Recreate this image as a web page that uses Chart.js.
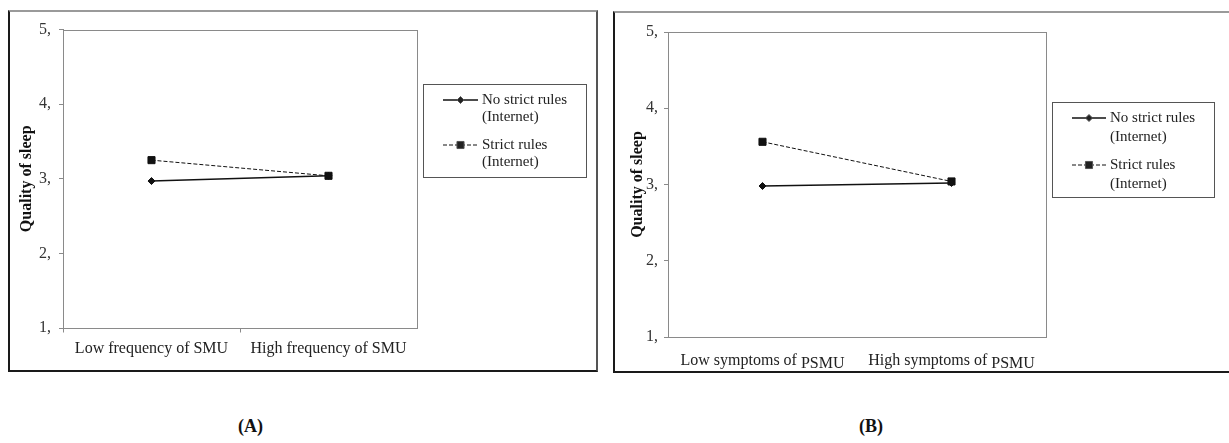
<!DOCTYPE html>
<html>
<head>
<meta charset="utf-8">
<script src="https://cdn.jsdelivr.net/npm/chart.js"></script>
<style>
  body { margin: 0; background: #fff; width: 1229px; height: 443px; overflow: hidden; position: relative; }
  .panel { position: absolute; box-sizing: border-box; border: 2px solid #1a1a1a; border-top-color: #9a9a9a; border-right-color: #555; }
  .panel canvas { display: block; }
  .tag { position: absolute; font-family: 'Liberation Serif', 'Times New Roman', serif; font-weight: bold; font-size: 18px; color: #111; }
</style>
</head>
<body>
<div class="panel" style="left:8px;top:10px;width:590px;height:362px;"><canvas id="chartA" width="586" height="358"></canvas></div>
<div class="panel" style="left:613px;top:11px;width:618px;height:362px;"><canvas id="chartB" width="614" height="358"></canvas></div>
<div class="tag" style="left:238px;top:416px;">(A)</div>
<div class="tag" style="left:859px;top:416px;">(B)</div>
<script>
const serif = "'Liberation Serif', 'Times New Roman', serif";

// data
const categoriesA = ['Low frequency of SMU', 'High frequency of SMU'];
const categoriesB = ['Low symptoms of PSMU', 'High symptoms of PSMU'];
const seriesNames = ['No strict rules (Internet)', 'Strict rules (Internet)'];
const noRulesA = [2.97, 3.04];
const strictA = [3.25, 3.04];
const noRulesB = [2.98, 3.02];
const strictB = [3.56, 3.04];
const yTicks = [1, 2, 3, 4, 5];
const yTitle = 'Quality of sleep';

// plot frame (top + right edges too), optional tick between categories
const frame = {
  id: 'frame',
  beforeDatasetsDraw(chart, args, opts) {
    const { ctx, chartArea: a } = chart;
    ctx.save();
    ctx.strokeStyle = '#8a8a8a';
    ctx.lineWidth = 1;
    ctx.strokeRect(Math.round(a.left) + 0.5, Math.round(a.top) + 0.5, Math.round(a.right - a.left), Math.round(a.bottom - a.top));
    if (opts.midTick) {
      const xs = chart.scales.x;
      const mx = Math.round((xs.getPixelForValue(0) + xs.getPixelForValue(1)) / 2) + 0.5;
      const bottom = Math.round(a.bottom) + 0.5;
      ctx.beginPath();
      ctx.moveTo(mx, bottom);
      ctx.lineTo(mx, bottom + 4);
      ctx.moveTo(Math.round(a.left) + 0.5, bottom);
      ctx.lineTo(Math.round(a.left) + 0.5, bottom + 4);
      ctx.stroke();
    }
    ctx.restore();
  }
};

// category labels, with an optional lowered last word
const xLabels = {
  id: 'xLabels',
  afterDraw(chart, args, opts) {
    const { ctx } = chart;
    const xs = chart.scales.x;
    const base = chart.chartArea.bottom + opts.dy;
    ctx.save();
    ctx.fillStyle = '#222';
    ctx.font = '16px ' + serif;
    ctx.textBaseline = 'alphabetic';
    ctx.textAlign = 'left';
    chart.data.labels.forEach((lab, i) => {
      const cx = xs.getPixelForValue(i);
      if (opts.sub && lab.endsWith(opts.sub)) {
        const main = lab.slice(0, lab.length - opts.sub.length);
        const w1 = ctx.measureText(main).width;
        const w2 = ctx.measureText(opts.sub).width;
        const x0 = cx - (w1 + w2) / 2;
        ctx.fillText(main, x0, base);
        ctx.fillText(opts.sub, x0 + w1, base + opts.subDy);
      } else {
        const w = ctx.measureText(lab).width;
        ctx.fillText(lab, cx - w / 2, base);
      }
    });
    ctx.restore();
  }
};

// boxed legend with line sample + marker
const boxLegend = {
  id: 'boxLegend',
  afterDraw(chart, args, opts) {
    const { ctx } = chart;
    const [l, t, r, b] = opts.box;
    ctx.save();
    ctx.strokeStyle = '#555';
    ctx.lineWidth = 1;
    ctx.strokeRect(l + 0.5, t + 0.5, r - l, b - t);
    ctx.font = '15px ' + serif;
    ctx.fillStyle = '#222';
    ctx.textBaseline = 'middle';
    chart.data.datasets.forEach((ds, i) => {
      const y = opts.rows[i];
      ctx.save();
      ctx.strokeStyle = ds.borderColor;
      ctx.lineWidth = ds.borderWidth;
      ctx.setLineDash(ds.borderDash || []);
      ctx.beginPath();
      ctx.moveTo(opts.lineX[0], y);
      ctx.lineTo(opts.lineX[1], y);
      ctx.stroke();
      ctx.restore();
      Chart.helpers.drawPoint(ctx, {
        pointStyle: ds.pointStyle, radius: ds.pointRadius, borderWidth: 1, rotation: 0
      }, (opts.lineX[0] + opts.lineX[1]) / 2, y);
      const lines = ds.label.split(' (');
      ctx.fillText(lines[0], opts.textX, y);
      if (lines[1]) ctx.fillText('(' + lines[1], opts.textX, y + opts.lineGap);
    });
    ctx.restore();
  }
};

function makeChart(id, labels, noRules, strict, cfg) {
  const ctx = document.getElementById(id).getContext('2d');
  const line = (label, data, dash, style, radius, width) => ({
    label, data,
    borderColor: '#111', backgroundColor: '#111',
    pointBackgroundColor: '#111', pointBorderColor: '#111',
    borderWidth: width, borderDash: dash,
    pointStyle: style, pointRadius: radius, pointBorderWidth: 1,
    tension: 0
  });
  return new Chart(ctx, {
    type: 'line',
    data: {
      labels,
      datasets: [
        line(seriesNames[0], noRules, [], 'rectRot', 3.5, 1.5),
        line(seriesNames[1], strict, [4, 2], 'rect', 5, 1)
      ]
    },
    options: {
      responsive: false,
      animation: false,
      layout: { padding: { top: cfg.top, right: cfg.right, left: 0, bottom: 0 } },
      plugins: {
        legend: { display: false },
        tooltip: { enabled: false },
        frame: { midTick: cfg.midTick },
        xLabels: cfg.xl,
        boxLegend: cfg.legend
      },
      scales: {
        x: {
          offset: true,
          afterFit: s => { s.height = cfg.xh; },
          grid: { display: false, drawTicks: false },
          border: { display: false },
          ticks: { display: false }
        },
        y: {
          min: 1, max: 5,
          afterFit: s => { s.width = cfg.yw; },
          afterBuildTicks: s => { s.ticks = yTicks.map(v => ({ value: v })); },
          grid: { drawOnChartArea: false, tickLength: 4, color: '#8a8a8a' },
          border: { color: '#8a8a8a' },
          ticks: {
            padding: cfg.tickPad,
            color: '#333',
            font: { family: serif, size: 16 },
            callback: v => v + ','
          },
          title: {
            display: true,
            text: yTitle,
            color: '#111',
            font: { family: serif, size: 16, weight: 'bold' },
            padding: { top: cfg.titlePad, bottom: 0 }
          }
        }
      }
    },
    plugins: [frame, xLabels, boxLegend]
  });
}

makeChart('chartA', categoriesA, noRulesA, strictA, {
  top: 12, right: 179, xh: 42, yw: 53, tickPad: 8, titlePad: 7, midTick: true,
  xl: { dy: 25, sub: null, subDy: 0 },
  legend: { box: [413, 72, 576, 165], rows: [88, 133], lineX: [433, 468], textX: 472, lineGap: 17 }
});

makeChart('chartB', categoriesB, noRulesB, strictB, {
  top: 19, right: 183, xh: 34, yw: 53, tickPad: 6, titlePad: 13, midTick: false,
  xl: { dy: 28, sub: 'PSMU', subDy: 3 },
  legend: { box: [437, 89, 599, 184], rows: [105, 152], lineX: [457, 491], textX: 495, lineGap: 19 }
});
</script>
</body>
</html>
